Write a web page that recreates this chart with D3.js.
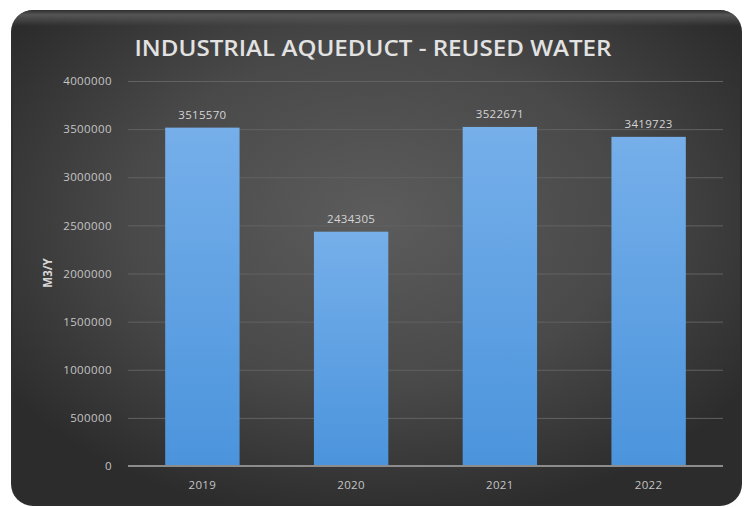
<!DOCTYPE html>
<html><head><meta charset="utf-8">
<script src="https://cdn.jsdelivr.net/npm/d3@7"></script>
<style>html,body{margin:0;padding:0;background:#fff;}svg{display:block;}</style>
</head><body>
<svg id="c" width="744" height="507"></svg>
<script>
const title = "INDUSTRIAL AQUEDUCT - REUSED WATER";
const yAxisLabel = "M3/Y";
const categories = ["2019", "2020", "2021", "2022"];
const values = [3515570, 2434305, 3522671, 3419723];
const yTicks = [0, 500000, 1000000, 1500000, 2000000, 2500000, 3000000, 3500000, 4000000];

const svg = d3.select("#c");
const defs = svg.append("defs");

const rg = defs.append("radialGradient").attr("id","bg").attr("cx","50%").attr("cy","42%").attr("r","62%");
rg.append("stop").attr("offset","0%").attr("stop-color","#5c5c5c");
rg.append("stop").attr("offset","55%").attr("stop-color","#494949");
rg.append("stop").attr("offset","100%").attr("stop-color","#2c2c2c");

const tg = defs.append("linearGradient").attr("id","top").attr("x1",0).attr("y1",0).attr("x2",0).attr("y2",1);
tg.append("stop").attr("offset","0%").attr("stop-color","#2e2e2e");
tg.append("stop").attr("offset","30%").attr("stop-color","#555555");
tg.append("stop").attr("offset","100%").attr("stop-color","#555555").attr("stop-opacity",0);

const bg = defs.append("linearGradient").attr("id","bar").attr("x1",0).attr("y1",0).attr("x2",0).attr("y2",1);
bg.append("stop").attr("offset","0%").attr("stop-color","#76afea");
bg.append("stop").attr("offset","100%").attr("stop-color","#4b94dc");

const clip = defs.append("clipPath").attr("id","frameClip");
clip.append("rect").attr("x",11).attr("y",10).attr("width",731).attr("height",496).attr("rx",22).attr("ry",22);

// frame
svg.append("rect").attr("x",11).attr("y",10).attr("width",731).attr("height",496)
  .attr("rx",22).attr("ry",22).attr("fill","#2e2e2e");
svg.append("rect").attr("x",13).attr("y",12).attr("width",727).attr("height",492)
  .attr("rx",20).attr("ry",20).attr("fill","url(#bg)");
svg.append("g").attr("clip-path","url(#frameClip)")
  .append("rect").attr("x",11).attr("y",10).attr("width",731).attr("height",16).attr("fill","url(#top)");

const x = d3.scaleBand().domain(categories).range([128, 723]).paddingInner(0.5).paddingOuter(0.25);
const y = d3.scaleLinear().domain([0, 4000000]).range([466, 81]);

// gridlines
const grid = svg.append("g").attr("transform","translate(128,0)")
  .call(d3.axisLeft(y).tickValues(yTicks).tickSize(-(723-128)).tickFormat(""));
grid.select(".domain").remove();
grid.selectAll("line").attr("stroke","#626262").attr("stroke-width",1);

// bars
svg.append("g").selectAll("rect").data(values).join("rect")
  .attr("x",(d,i)=>x(categories[i]))
  .attr("y",d=>y(d))
  .attr("width",x.bandwidth())
  .attr("height",d=>y(0)-y(d))
  .attr("fill","url(#bar)");

// baseline
svg.append("line").attr("x1",128).attr("x2",723).attr("y1",y(0)).attr("y2",y(0))
  .attr("stroke","#8c8c8c").attr("stroke-width",2);

// y tick labels
const ya = svg.append("g").attr("transform","translate(112,0)")
  .call(d3.axisLeft(y).tickValues(yTicks).tickSize(0).tickPadding(0).tickFormat(d3.format("d")));
ya.select(".domain").remove();
ya.selectAll("text").attr("fill","#c4c4c4").attr("font-family","'Open Sans', sans-serif")
  .attr("font-size","11.5px").attr("letter-spacing","0.4px");

// x labels
const xa = svg.append("g").attr("transform",`translate(0,${y(0)})`)
  .call(d3.axisBottom(x).tickSize(0).tickPadding(15));
xa.select(".domain").remove();
xa.selectAll("text").attr("fill","#c4c4c4").attr("font-family","'Open Sans', sans-serif")
  .attr("font-size","11.5px").attr("letter-spacing","0.4px");

// value labels
svg.append("g").selectAll("text").data(values).join("text")
  .attr("x",(d,i)=>x(categories[i])+x.bandwidth()/2)
  .attr("y",d=>y(d)-9)
  .attr("text-anchor","middle")
  .attr("fill","#d4d4d4").attr("font-family","'Open Sans', sans-serif")
  .attr("font-size","11.5px").attr("letter-spacing","0.3px")
  .text(d=>d);

// title
svg.append("text").attr("x",373).attr("y",56).attr("text-anchor","middle")
  .attr("fill","#e2e2e2").attr("font-family","'Open Sans', sans-serif")
  .attr("font-weight",600).attr("font-size","22px")
  .attr("textLength",477).attr("lengthAdjust","spacingAndGlyphs")
  .text(title);

// y axis label
svg.append("text").attr("transform","translate(52,273) rotate(-90)")
  .attr("text-anchor","middle").attr("fill","#d8d8d8")
  .attr("font-family","'Open Sans', sans-serif").attr("font-weight",700)
  .attr("font-size","11.5px").text(yAxisLabel);
</script>
</body></html>
